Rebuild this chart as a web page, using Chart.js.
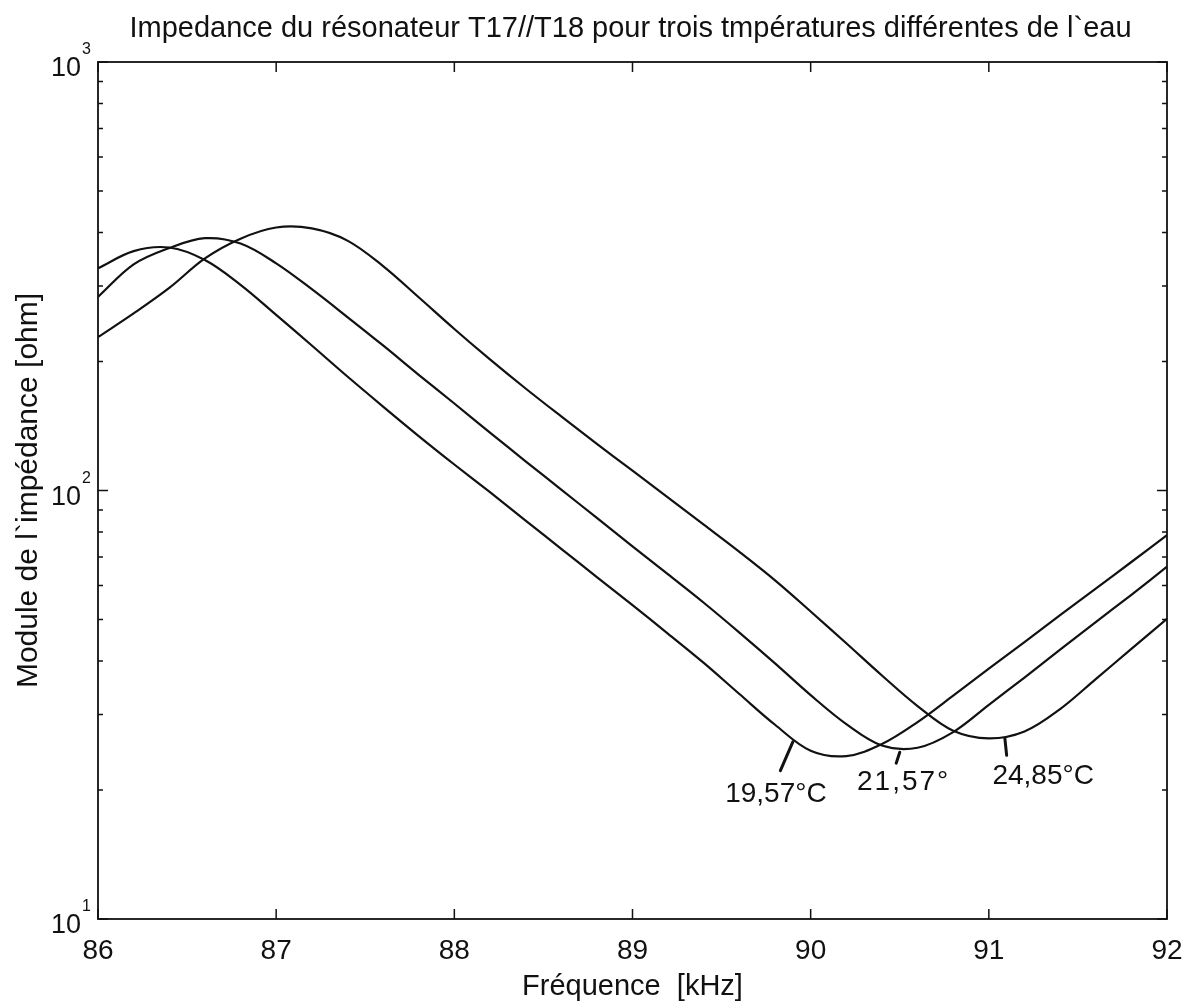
<!DOCTYPE html>
<html>
<head>
<meta charset="utf-8">
<script src="https://cdn.jsdelivr.net/npm/chart.js@4.4.1/dist/chart.umd.min.js"></script>
<style>
  html, body { margin: 0; padding: 0; background: #ffffff; }
  #wrap { width: 1186px; height: 1001px; }
</style>
</head>
<body>
<div id="wrap"><canvas id="c" width="1186" height="1001"></canvas></div>
<script>
// Frequency grid (kHz)
const freq = [86.0, 86.2, 86.4, 86.6, 86.8, 87.0, 87.2, 87.4, 87.6, 87.8,
              88.0, 88.2, 88.4, 88.6, 88.8, 89.0, 89.2, 89.4, 89.6, 89.8,
              90.0, 90.2, 90.4, 90.6, 90.8, 91.0, 91.2, 91.4, 91.6, 91.8, 92.0];

// Impedance modulus (ohm) at each water temperature
const z1957 = [330, 362, 369, 345, 302, 257, 218, 184.5, 157, 134,
               115, 99.1, 85.1, 73.1, 62.8, 54.0, 46.3, 39.6, 33.5, 28.4,
               24.7, 24.0, 25.6, 28.8, 33.2, 38.4, 44.3, 51.2, 59.0, 68.1, 78.7];
const z2157 = [283, 337, 368, 388, 377, 339, 295, 254, 218, 186.2,
               159.6, 136.5, 117, 100.5, 86.3, 74.1, 63.7, 54.7, 46.6, 39.5,
               33.3, 28.5, 25.4, 25.1, 27.3, 31.6, 36.6, 42.5, 49.3, 57.1, 66.4];
const z2485 = [228, 259, 297, 348, 387, 411, 409, 383, 334, 282.5,
               238.2, 202.3, 173, 148.9, 128.5, 111.2, 96.2, 83.2, 71.9, 61.7,
               52.2, 44.0, 37.0, 31.4, 27.5, 26.4, 27.4, 30.9, 36.3, 42.7, 50.2];

// Axis ticks
const xTicks = [86, 87, 88, 89, 90, 91, 92];
const yMajor = [10, 100, 1000];
const yMajorExp = ['1', '2', '3'];
const yMinor = [20, 30, 40, 50, 60, 70, 80, 90, 200, 300, 400, 500, 600, 700, 800, 900];

// Curve labels: text, text anchor (f, Z), pointer start (f, Z), pointer end (f, Z)
const labelText = ['19,57°C', '21,57°', '24,85°C'];
const labelAt = [[89.52, 18.8], [90.26, 20.0], [91.02, 20.7]];
const labelSpacing = [0, 2, 0];
const pointerFrom = [[89.90, 25.9], [90.50, 24.5], [91.09, 26.4]];
const pointerTo = [[89.83, 22.2], [90.48, 23.1], [91.10, 24.1]];

const titleText = 'Impedance du résonateur T17//T18 pour trois tmpératures différentes de l`eau';
const xTitle = 'Fréquence  [kHz]';
const yTitle = 'Module de l`impédance [ohm]';

const FONT = '"Liberation Sans", Arial, Helvetica, sans-serif';

function series(vals) {
  return freq.map((f, i) => ({ x: f, y: vals[i] }));
}

const lineStyle = {
  borderColor: '#111111',
  borderWidth: 2.2,
  pointRadius: 0,
  fill: false,
  tension: 0.35
};

const framePlugin = {
  id: 'frame',
  afterDatasetsDraw(chart) {
    const { ctx, chartArea: a, scales } = chart;
    const xs = scales.x, ys = scales.y;
    ctx.save();
    ctx.strokeStyle = '#111111';
    ctx.fillStyle = '#111111';

    // box
    ctx.lineWidth = 1.8;
    ctx.strokeRect(a.left, a.top, a.right - a.left, a.bottom - a.top);

    // x ticks, inward on bottom and top
    ctx.lineWidth = 1.5;
    ctx.beginPath();
    xTicks.forEach(v => {
      const px = xs.getPixelForValue(v);
      ctx.moveTo(px, a.bottom); ctx.lineTo(px, a.bottom - 10);
      ctx.moveTo(px, a.top); ctx.lineTo(px, a.top + 10);
    });
    // y ticks, inward on left and right
    yMajor.forEach(v => {
      const py = ys.getPixelForValue(v);
      ctx.moveTo(a.left, py); ctx.lineTo(a.left + 10, py);
      ctx.moveTo(a.right, py); ctx.lineTo(a.right - 10, py);
    });
    yMinor.forEach(v => {
      const py = ys.getPixelForValue(v);
      ctx.moveTo(a.left, py); ctx.lineTo(a.left + 5, py);
      ctx.moveTo(a.right, py); ctx.lineTo(a.right - 5, py);
    });
    ctx.stroke();

    // x tick labels
    ctx.font = '28px ' + FONT;
    ctx.textAlign = 'center';
    ctx.textBaseline = 'alphabetic';
    xTicks.forEach(v => {
      ctx.fillText(String(v), xs.getPixelForValue(v), a.bottom + 40);
    });

    // y tick labels 10^n
    yMajor.forEach((v, i) => {
      const py = ys.getPixelForValue(v);
      ctx.font = '27px ' + FONT;
      ctx.textAlign = 'right';
      ctx.fillText('10', a.left - 17, py + 14);
      ctx.font = '16px ' + FONT;
      ctx.textAlign = 'left';
      ctx.fillText(yMajorExp[i], a.left - 16, py - 8);
    });

    // title
    ctx.font = '29px ' + FONT;
    ctx.textAlign = 'center';
    ctx.fillText(titleText, (a.left + a.right) / 2 - 2, 37);

    // x axis title
    ctx.font = '29px ' + FONT;
    ctx.fillText(xTitle, (a.left + a.right) / 2, 995);

    // y axis title
    ctx.save();
    ctx.translate(37, (a.top + a.bottom) / 2);
    ctx.rotate(-Math.PI / 2);
    ctx.font = '30px ' + FONT;
    ctx.textAlign = 'center';
    ctx.fillText(yTitle, 0, 0);
    ctx.restore();

    // curve labels with pointers
    ctx.lineWidth = 3;
    ctx.lineCap = 'round';
    labelText.forEach((t, i) => {
      ctx.beginPath();
      ctx.moveTo(xs.getPixelForValue(pointerFrom[i][0]), ys.getPixelForValue(pointerFrom[i][1]));
      ctx.lineTo(xs.getPixelForValue(pointerTo[i][0]), ys.getPixelForValue(pointerTo[i][1]));
      ctx.stroke();
      ctx.font = '28px ' + FONT;
      ctx.textAlign = 'left';
      ctx.letterSpacing = labelSpacing[i] + 'px';
      ctx.fillText(t, xs.getPixelForValue(labelAt[i][0]), ys.getPixelForValue(labelAt[i][1]));
      ctx.letterSpacing = '0px';
    });

    ctx.restore();
  }
};

new Chart(document.getElementById('c'), {
  type: 'line',
  data: {
    datasets: [
      Object.assign({ label: '19,57°C', data: series(z1957) }, lineStyle),
      Object.assign({ label: '21,57°C', data: series(z2157) }, lineStyle),
      Object.assign({ label: '24,85°C', data: series(z2485) }, lineStyle)
    ]
  },
  options: {
    responsive: false,
    animation: false,
    devicePixelRatio: 1,
    layout: { padding: { top: 62, right: 19, left: 0, bottom: 0 } },
    plugins: { legend: { display: false }, title: { display: false }, tooltip: { enabled: false } },
    scales: {
      x: {
        type: 'linear', min: 86, max: 92,
        grid: { display: false, drawTicks: false },
        border: { display: false },
        ticks: { display: false, stepSize: 1 },
        afterFit(s) { s.height = 82; }
      },
      y: {
        type: 'logarithmic', min: 10, max: 1000,
        grid: { display: false, drawTicks: false },
        border: { display: false },
        ticks: { display: false },
        afterFit(s) { s.width = 98; }
      }
    }
  },
  plugins: [framePlugin]
});
</script>
</body>
</html>
